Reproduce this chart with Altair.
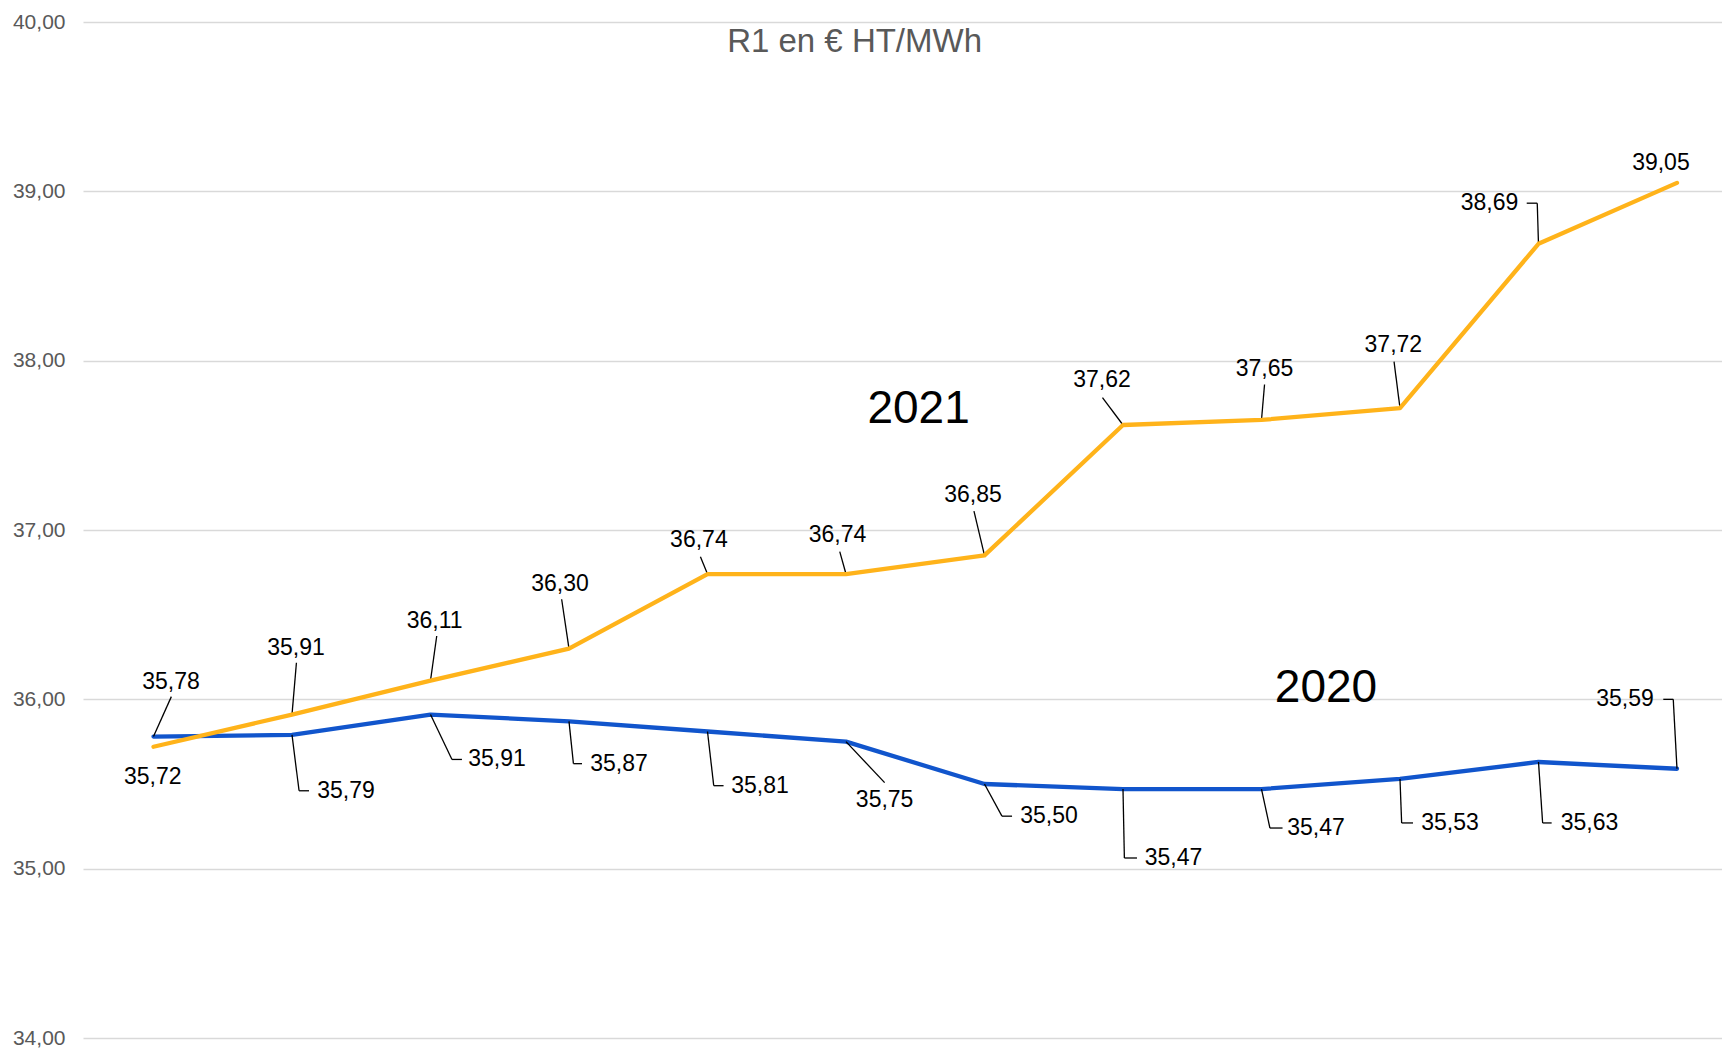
import altair as alt
import pandas as pd

# ---- data ----
month_index = list(range(12))
values_2021 = [35.72, 35.91, 36.11, 36.30, 36.74, 36.74, 36.85, 37.62, 37.65, 37.72, 38.69, 39.05]
values_2020 = [35.78, 35.79, 35.91, 35.87, 35.81, 35.75, 35.50, 35.47, 35.47, 35.53, 35.63, 35.59]
y_ticks = [34, 35, 36, 37, 38, 39, 40]
series_names = ["2020", "2021"]
series_colors = ["#1155cc", "#ffb31a"]
chart_title = "R1 en € HT/MWh"

# ---- label placement (data units: month index, € value) ----
lab21_x = [-0.005, 1.029, 2.030, 2.935, 3.938, 4.939, 5.917, 6.848, 8.022, 8.952, 9.646, 10.884]
lab21_y = [35.541, 36.303, 36.463, 36.681, 36.941, 36.970, 37.207, 37.883, 37.951, 38.092, 38.93, 39.170]
# leader: (corner_x, corner_y, end_x, end_y) or None
lead21 = [None, (1.032, 36.216, 1.032, 36.216), (2.045, 36.374, 2.045, 36.374),
          (2.947, 36.591, 2.947, 36.591), (3.949, 36.842, 3.949, 36.842),
          (4.955, 36.872, 4.955, 36.872), (5.924, 37.112, 5.924, 37.112),
          (6.852, 37.782, 6.852, 37.782), (8.022, 37.859, 8.022, 37.859),
          (8.957, 37.994, 8.957, 37.994), (9.991, 38.93, 9.915, 38.93), None]

lab20_x = [0.126, 1.390, 2.480, 3.361, 4.379, 5.279, 6.466, 7.365, 8.394, 9.361, 10.368, 10.625]
lab20_y = [36.104, 35.46, 35.645, 35.62, 35.49, 35.405, 35.31, 35.063, 35.24, 35.27, 35.27, 36.0]
lead20 = [(0.129, 36.016, 0.129, 36.016), (1.051, 35.46, 1.123, 35.46),
          (2.155, 35.645, 2.227, 35.645), (3.032, 35.62, 3.094, 35.62),
          (4.045, 35.49, 4.116, 35.49), (5.279, 35.508, 5.279, 35.508),
          (6.126, 35.31, 6.199, 35.31), (7.01, 35.063, 7.101, 35.063),
          (8.061, 35.24, 8.152, 35.24), (9.012, 35.27, 9.094, 35.27),
          (10.03, 35.27, 10.095, 35.27), (10.973, 36.0, 10.901, 36.0)]

series_label_text = ["2021", "2020"]
series_label_x = [5.524, 8.466]
series_label_y = [37.712, 36.064]
title_x = [5.062]
title_y = [39.882]

# ---- build tables ----
def fmt(v):
    return f"{v:.2f}".replace(".", ",")

lines = pd.DataFrame(
    [{"m": m, "v": v, "s": "2020"} for m, v in zip(month_index, values_2020)]
    + [{"m": m, "v": v, "s": "2021"} for m, v in zip(month_index, values_2021)]
)

labels = pd.DataFrame(
    [{"lx": x, "ly": y, "t": fmt(v)} for x, y, v in zip(lab21_x, lab21_y, values_2021)]
    + [{"lx": x, "ly": y, "t": fmt(v)} for x, y, v in zip(lab20_x, lab20_y, values_2020)]
)

segs = []
for vals, leads in ((values_2021, lead21), (values_2020, lead20)):
    for m, v, ld in zip(month_index, vals, leads):
        if ld is None:
            continue
        cx, cy, ex, ey = ld
        segs.append({"x": m, "y": v, "x2": cx, "y2": cy})
        if (cx, cy) != (ex, ey):
            segs.append({"x": cx, "y": cy, "x2": ex, "y2": ey})
segs = pd.DataFrame(segs)

annots = pd.DataFrame({"x": series_label_x, "y": series_label_y, "t": series_label_text})
titles = pd.DataFrame({"x": title_x, "y": title_y, "t": [chart_title]})

W, H = 1639, 1016
xscale = alt.Scale(domain=[-0.509, 11.325], nice=False, zero=False)
yscale = alt.Scale(domain=[34, 40], nice=False, zero=False)

yaxis = alt.Axis(
    values=y_ticks,
    labelExpr="replace(format(datum.value, '.2f'), '.', ',')",
    domain=False, ticks=False, labelPadding=18,
    labelFontSize=21, labelColor="#595959", labelFont="Liberation Sans",
    gridColor="#d9d9d9", gridWidth=1.5, title=None,
)

def X(field):
    return alt.X(field, scale=xscale, axis=None)

def Y(field):
    return alt.Y(field, scale=yscale, axis=yaxis)

base_lines = alt.Chart(lines)

line20 = base_lines.transform_filter(alt.datum.s == "2020").mark_line(
    strokeWidth=4.3, color=series_colors[0], strokeCap="round", strokeJoin="round"
).encode(x=X("m:Q"), y=Y("v:Q"))

line21 = base_lines.transform_filter(alt.datum.s == "2021").mark_line(
    strokeWidth=4.3, color=series_colors[1], strokeCap="round", strokeJoin="round"
).encode(x=X("m:Q"), y=Y("v:Q"))

leaders = alt.Chart(segs).mark_rule(color="black", strokeWidth=1.3).encode(
    x=X("x:Q"), y=Y("y:Q"), x2="x2:Q", y2="y2:Q",
)

label_text = alt.Chart(labels).mark_text(
    fontSize=23, font="Liberation Sans", color="black", align="center", baseline="middle"
).encode(x=X("lx:Q"), y=Y("ly:Q"), text="t:N")

annot_text = alt.Chart(annots).mark_text(
    fontSize=46, font="Liberation Sans", color="black", align="center", baseline="middle"
).encode(x=X("x:Q"), y=Y("y:Q"), text="t:N")

title_text = alt.Chart(titles).mark_text(
    fontSize=33, font="Liberation Sans", color="#595959", align="center", baseline="middle"
).encode(x=X("x:Q"), y=Y("y:Q"), text="t:N")

chart = alt.layer(
    line20, leaders, line21, label_text, annot_text, title_text
).properties(
    width=W, height=H,
    autosize=alt.AutoSizeParams(type="none"),
    padding={"left": 75, "top": 14, "right": 0, "bottom": 12},
    background="white",
).configure_view(strokeWidth=0)

chart.save("out.html", embed_options={"renderer": "svg", "actions": False})
